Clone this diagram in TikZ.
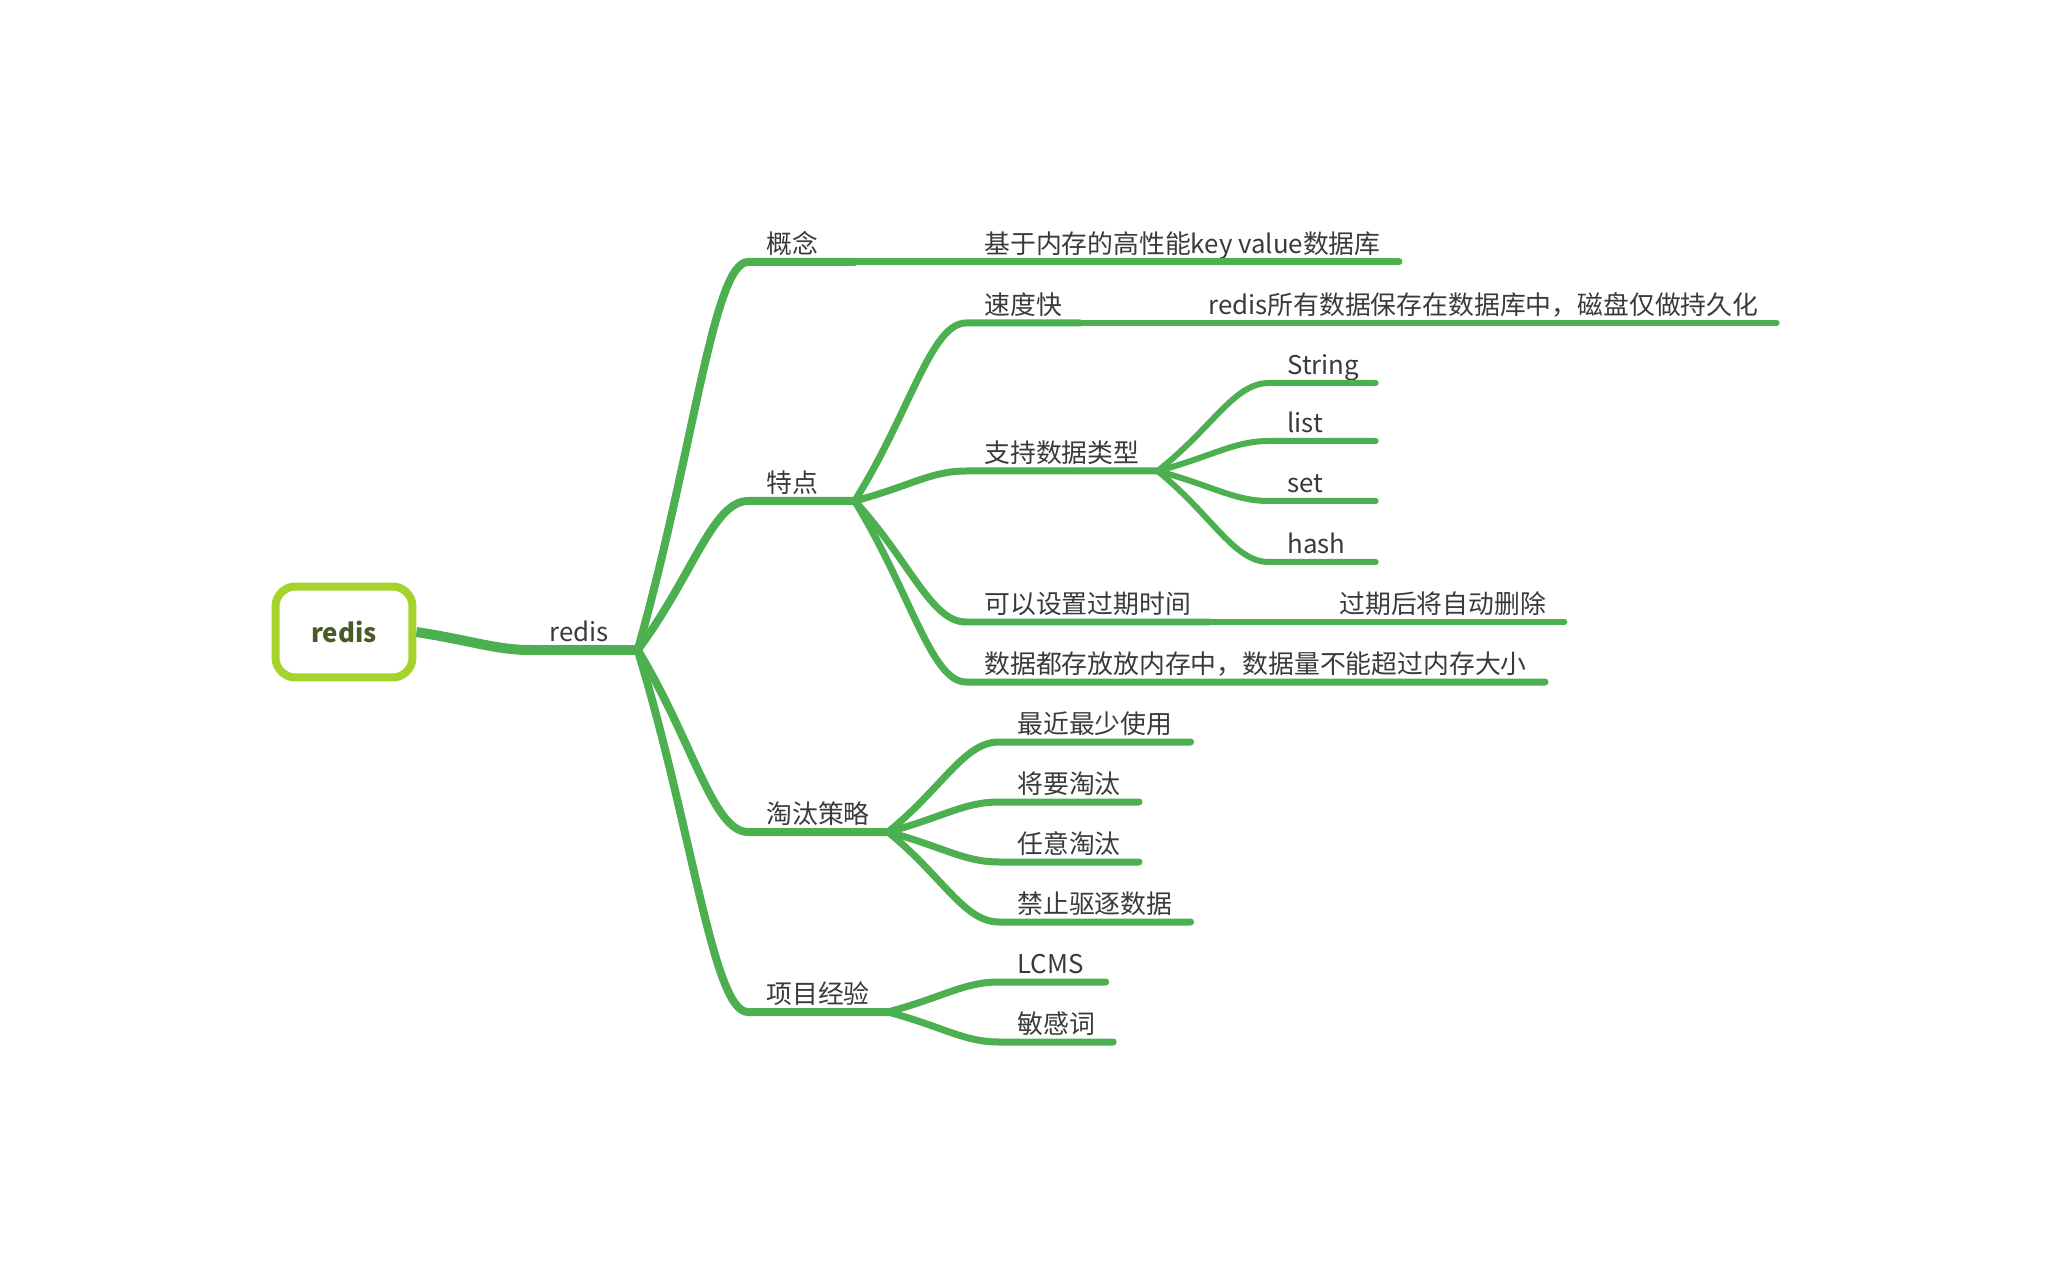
\documentclass[tikz,border=0pt]{standalone}
\usepackage{fontspec}
\setmainfont{Noto Sans CJK SC}
\usetikzlibrary{positioning, calc}
\definecolor{branchgreen}{HTML}{4CAF50}
\definecolor{rootlime}{HTML}{A6D22C}
\definecolor{rootolive}{HTML}{4B5A2B}
\definecolor{labelgray}{HTML}{3A3A3A}
\tikzstyle{rootbox} = [rectangle, rounded corners=0.4cm, minimum width=2.74cm, minimum height=1.82cm, text centered, draw=rootlime, line width=0.16cm, text=rootolive, font=\fontsize{14.7pt}{17pt}\selectfont\bfseries]
\tikzstyle{topic} = [anchor=south west, inner xsep=0.36cm, inner ysep=0.07cm, text depth=0.1cm, text=labelgray]
\tikzstyle{short} = [text width=1.4cm, align=left]
\tikzstyle{curvy} = [to path={.. controls ($(\tikztostart)!0.5!(\tikztotarget)$) and ($(\tikztotarget)+(-0.7cm,0)$) .. (\tikztotarget) \tikztonodes}]
\tikzstyle{trunk} = [draw=branchgreen, line width=0.2cm]
\tikzstyle{limb} = [draw=branchgreen, line width=0.16cm, line cap=round]
\tikzstyle{twig} = [draw=branchgreen, line width=0.14cm, line cap=round]
\tikzstyle{leaf} = [draw=branchgreen, line width=0.12cm, line cap=round]

\begin{document}
\begin{tikzpicture}[x=0.02cm, y=-0.02cm, font=\fontsize{14.7pt}{17pt}\selectfont]
\useasboundingbox (0,0) rectangle (2048,1266);

\node (root) [rootbox] at (344,632) {redis};
\node (redis) [topic, short] at (531,650) {redis};

\node (gainian) [topic, short] at (748,262) {概念};
\node (tedian) [topic, short] at (748,501) {特点};
\node (taotai) [topic] at (748,832) {淘汰策略};
\node (xiangmu) [topic] at (748,1012) {项目经验};

\node (gainiandef) [topic] at (966,262) {基于内存的高性能key value数据库};

\node (sudu) [topic] at (966,323) {速度快};
\node (sududef) [topic] at (1190,323) {redis所有数据保存在数据库中，磁盘仅做持久化};
\node (leixing) [topic] at (966,471) {支持数据类型};
\node (tstring) [topic, short] at (1269,383) {String};
\node (tlist) [topic, short] at (1269,441) {list};
\node (tset) [topic, short] at (1269,501) {set};
\node (thash) [topic, short] at (1269,562) {hash};
\node (guoqi) [topic] at (966,622) {可以设置过期时间};
\node (guoqidef) [topic] at (1321,622) {过期后将自动删除};
\node (neicun) [topic] at (966,682) {数据都存放放内存中，数据量不能超过内存大小};

\node (lru) [topic] at (999,742) {最近最少使用};
\node (jiangyao) [topic] at (999,802) {将要淘汰};
\node (renyi) [topic] at (999,862) {任意淘汰};
\node (jinzhi) [topic] at (999,922) {禁止驱逐数据};

\node (lcms) [topic, short] at (999,982) {LCMS};
\node (minganci) [topic] at (999,1042) {敏感词};

% root
\draw [trunk] (root.east) to[curvy] (redis.south west) -- (redis.south east);

% first level
\draw [limb] (redis.south east) to[curvy] (gainian.south west) -- (gainian.south east);
\draw [limb] (redis.south east) to[curvy] (tedian.south west) -- (tedian.south east);
\draw [limb] (redis.south east) to[curvy] (taotai.south west) -- (taotai.south east);
\draw [limb] (redis.south east) to[curvy] (xiangmu.south west) -- (xiangmu.south east);

\draw [twig] (gainian.south east) -- (gainiandef.south west) -- (gainiandef.south east);

% features
\draw [twig] (tedian.south east) to[curvy] (sudu.south west) -- (sudu.south east);
\draw [twig] (tedian.south east) to[curvy] (leixing.south west) -- (leixing.south east);
\draw [twig] (tedian.south east) to[curvy] (guoqi.south west) -- (guoqi.south east);
\draw [twig] (tedian.south east) to[curvy] (neicun.south west) -- (neicun.south east);

\draw [leaf] (sudu.south east) -- (sududef.south west) -- (sududef.south east);
\draw [leaf] (guoqi.south east) -- (guoqidef.south west) -- (guoqidef.south east);
\draw [leaf] (leixing.south east) to[curvy] (tstring.south west) -- (tstring.south east);
\draw [leaf] (leixing.south east) to[curvy] (tlist.south west) -- (tlist.south east);
\draw [leaf] (leixing.south east) to[curvy] (tset.south west) -- (tset.south east);
\draw [leaf] (leixing.south east) to[curvy] (thash.south west) -- (thash.south east);

% eviction
\draw [twig] (taotai.south east) to[curvy] (lru.south west) -- (lru.south east);
\draw [twig] (taotai.south east) to[curvy] (jiangyao.south west) -- (jiangyao.south east);
\draw [twig] (taotai.south east) to[curvy] (renyi.south west) -- (renyi.south east);
\draw [twig] (taotai.south east) to[curvy] (jinzhi.south west) -- (jinzhi.south east);

% projects
\draw [twig] (xiangmu.south east) to[curvy] (lcms.south west) -- (lcms.south east);
\draw [twig] (xiangmu.south east) to[curvy] (minganci.south west) -- (minganci.south east);

\end{tikzpicture}
\end{document}
